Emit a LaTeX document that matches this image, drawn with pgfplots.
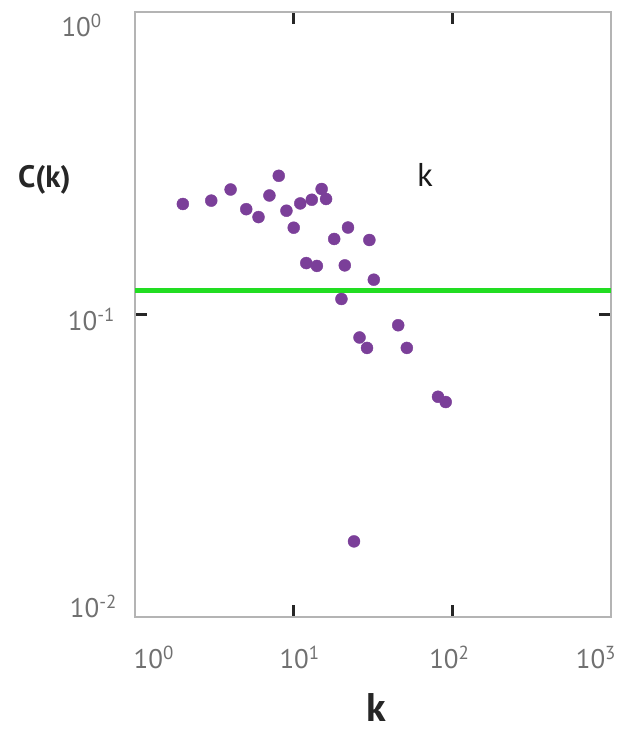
\documentclass[border=0pt]{standalone}
\usepackage{pgfplots}
\pgfplotsset{compat=1.18}
\usepackage{fontspec}
\setmainfont{PT Sans}
\definecolor{pts}{HTML}{7B3F99}
\definecolor{gline}{HTML}{22DD22}
\definecolor{tlab}{HTML}{707070}
\definecolor{frame}{HTML}{B4B4B4}
\begin{document}
\begin{tikzpicture}
\begin{axis}[name=ax, scale only axis, width=476.4pt, height=606pt,
  xmode=log, ymode=log, xmin=1, xmax=1000, ymin=0.01, ymax=1,
  xtick={10,100}, ytick={0.1}, xticklabels={}, yticklabels={},
  minor tick length=0pt,
  major tick length=12pt, tick align=inside,
  tick style={draw=black!85, line width=2.5pt},
  axis line style={draw=frame, line width=2pt},
  clip=false]
\addplot[gline, line width=4.5pt] coordinates {(1,0.12) (1000,0.12)};
\addplot[only marks, mark=*, mark size=6pt, mark options={fill=pts, draw=pts}] table {
x y
2.00 0.232
3.02 0.238
4.0 0.259
5.02 0.223
6.0 0.210
7.03 0.2475
8.05 0.2875
9.0 0.2204
10.0 0.1937
11.0 0.2330
13.0 0.2396
15.0 0.260
16.0 0.241
12.0 0.148
14.0 0.1448
18.0 0.1778
22.0 0.194
21.0 0.1454
30.0 0.1764
32.0 0.1304
20.0 0.1126
45.6 0.0922
26.0 0.0840
29.0 0.0776
51.7 0.0776
81.3 0.0535
90.9 0.0514
24.0 0.0178
};
\end{axis}
\begin{scope}[every node/.style={inner sep=0pt, outer sep=0pt}]
\node[anchor=base, text=tlab, font=\fontsize{27}{30}\selectfont] at ([shift={(-53.6pt,581pt)}]ax.south west) {10\textsuperscript{0}};
\node[anchor=base, text=tlab, font=\fontsize{27}{30}\selectfont] at ([shift={(-43.8pt,287pt)}]ax.south west) {10\textsuperscript{-1}};
\node[anchor=base, text=tlab, font=\fontsize{27}{30}\selectfont] at ([shift={(-41.8pt,0pt)}]ax.south west) {10\textsuperscript{-2}};
\node[anchor=base, text=tlab, font=\fontsize{27}{30}\selectfont] at ([shift={(18.7pt,-51pt)}]ax.south west) {10\textsuperscript{0}};
\node[anchor=base, text=tlab, font=\fontsize{27}{30}\selectfont] at ([shift={(164.7pt,-51pt)}]ax.south west) {10\textsuperscript{1}};
\node[anchor=base, text=tlab, font=\fontsize{27}{30}\selectfont] at ([shift={(314.7pt,-51pt)}]ax.south west) {10\textsuperscript{2}};
\node[anchor=base, text=tlab, font=\fontsize{27}{30}\selectfont] at ([shift={(461.4pt,-51pt)}]ax.south west) {10\textsuperscript{3}};
\node[anchor=base, text=black!85, font=\fontsize{31}{34}\selectfont\bfseries] at ([shift={(-90.8pt,430pt)}]ax.south west) {C(k)};
\node[anchor=base, text=black!90, font=\fontsize{33}{36}\selectfont] at ([shift={(290.2pt,431pt)}]ax.south west) {k};
\node[anchor=base, text=black!85, font=\fontsize{40}{44}\selectfont\bfseries] at ([shift={(241.4pt,-104pt)}]ax.south west) {k};
\end{scope}
\pgfresetboundingbox
\path ([shift={(-135.3pt,-115pt)}]ax.south west) rectangle ([shift={(5.3pt,12pt)}]ax.north east);
\end{tikzpicture}
\end{document}
